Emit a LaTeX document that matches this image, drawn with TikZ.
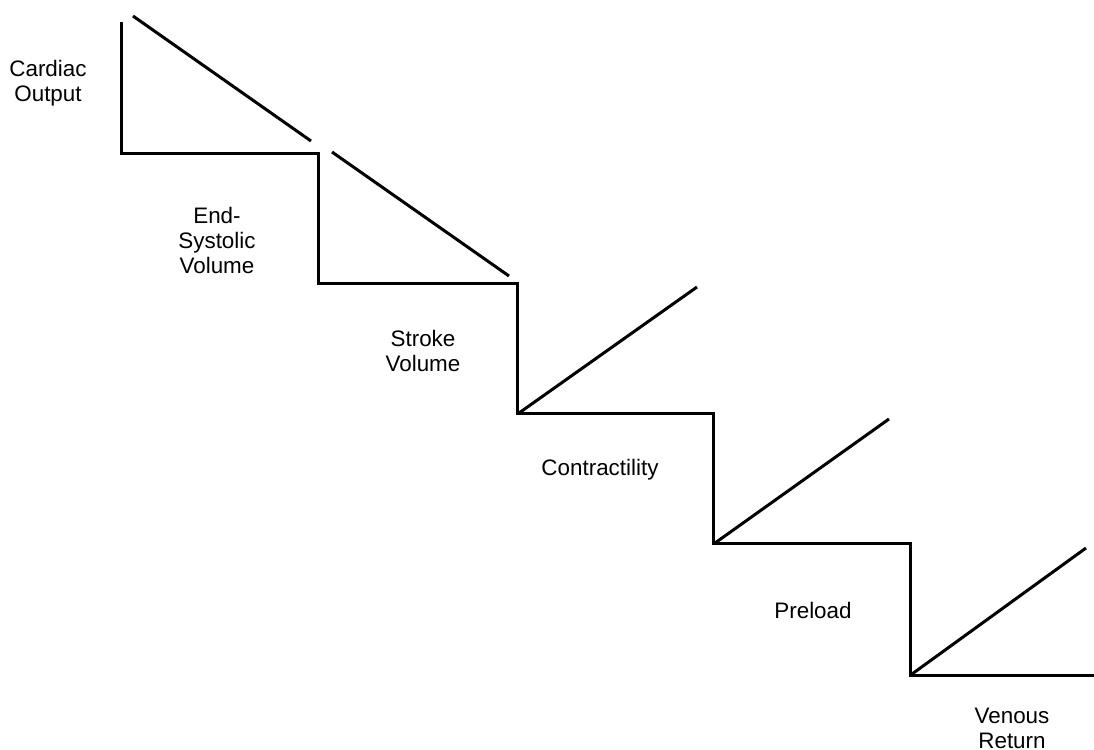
\documentclass[tikz,border=0pt]{standalone}
\usepackage{fontspec}
\setsansfont{Liberation Sans}
\usepackage{tikz}
\usetikzlibrary{positioning}

\begin{document}
\begin{tikzpicture}[x=0.5pt, y=-0.5pt,
        lbl/.style={align=center, inner sep=0pt, font=\sffamily\fontsize{11.2}{12.5}\selectfont},
        stair/.style={line width=1.5pt, line join=miter},
        slope/.style={line width=1.5pt}
    ]
        \useasboundingbox (0,0) rectangle (1094,750);

        % staircase
        \draw[stair] (121,22) -- (121,153) -- (318,153) -- (318,283) -- (517,283)
            -- (517,413) -- (713,413) -- (713,543) -- (910,543) -- (910,675) -- (1094,675);

        % falling and rising slopes
        \draw[slope] (133,16) -- (311,141);
        \draw[slope] (332,152) -- (509,276);
        \draw[slope] (519,413) -- (697,287);
        \draw[slope] (715,543) -- (889,419);
        \draw[slope] (912,674) -- (1086,548);

        % labels
        \node[lbl] (co) at (48,83) {Cardiac\\Output};
        \node[lbl] (esv) at (217,240) {End-\\Systolic\\Volume};
        \node[lbl] (sv) at (423,351) {Stroke\\Volume};
        \node[lbl] (ctr) at (600,470) {Contractility};
        \node[lbl] (pre) at (813,610) {Preload};
        \node[lbl] (vr) at (1012,728) {Venous\\Return};

    \end{tikzpicture}
\end{document}
